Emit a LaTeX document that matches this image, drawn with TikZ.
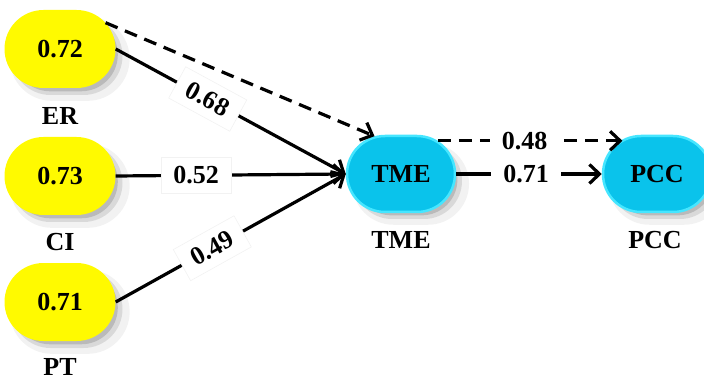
\documentclass[tikz,border=0pt]{standalone}
\usepackage{fontspec}
\setmainfont{Liberation Serif}
\usetikzlibrary{shapes.misc,shadows,arrows.meta}
\definecolor{ylw}{RGB}{255,250,0}
\definecolor{cyanfill}{RGB}{10,195,235}
\definecolor{cyanedge}{RGB}{70,230,255}
\tikzset{
  blur/.style={
    general shadow={shadow xshift=9pt,shadow yshift=-9pt,fill=black,opacity=0.05,shadow scale=1.08},
    general shadow={shadow xshift=7pt,shadow yshift=-7pt,fill=black,opacity=0.10},
    general shadow={shadow xshift=6pt,shadow yshift=-6pt,fill=black,opacity=0.14,shadow scale=0.94}},
  latent/.style={rounded rectangle,minimum width=111pt,minimum height=78pt,
    font=\fontsize{26}{30}\selectfont\bfseries,inner sep=0pt,blur},
  yel/.style={latent,fill=ylw},
  blu/.style={latent,fill=cyanfill,draw=cyanedge,line width=2.5pt,minimum width=108pt,minimum height=76pt},
  lab/.style={font=\fontsize{26}{30}\selectfont\bfseries,inner sep=1pt},
  arr/.style={line width=3.2pt,-{Straight Barb[length=10pt,width=19pt,line width=3.2pt]}},
  darr/.style={arr,dash pattern=on 13pt off 8pt},
  coef/.style={fill=white,draw=black!5,line width=0.6pt,inner xsep=12pt,inner ysep=9pt,
    font=\fontsize{26}{30}\selectfont\bfseries}
}
\begin{document}
\begin{tikzpicture}[x=1pt,y=-1pt]
\useasboundingbox (0,0) rectangle (704,382);
\node[yel] (ER) at (60,49) {0.72};
\node[yel] (CI) at (60,176) {0.73};
\node[yel] (PT) at (60,302) {0.71};
\node[blu] (TME) at (401,174) {TME};
\node[blu] (PCC) at (657,174) {PCC};
\node[lab] (lER) at (60,116) {ER};
\node[lab] (lCI) at (60,242) {CI};
\node[lab] (lPT) at (60,367) {PT};
\node[lab] (lTME) at (401,240) {TME};
\node[lab] (lPCC) at (655,240) {PCC};
\draw[darr] (ER.30) -- (TME.125);
\draw[arr] (ER.east) -- node[coef,sloped,pos=0.4] (c1) {0.68} (TME.west);
\draw[arr] (CI.east) -- node[coef,pos=0.35] (c2) {0.52} (TME.west);
\draw[arr] (PT.east) -- node[coef,sloped,pos=0.42] (c3) {0.49} (TME.west);
\draw[darr] (TME.42) -- node[coef,pos=0.47,draw=none] (c4) {0.48} (TME.42 -| PCC.135);
\draw[arr] (TME.east) -- node[coef,pos=0.48,draw=none] (c5) {0.71} (PCC.west);
\end{tikzpicture}
\end{document}
